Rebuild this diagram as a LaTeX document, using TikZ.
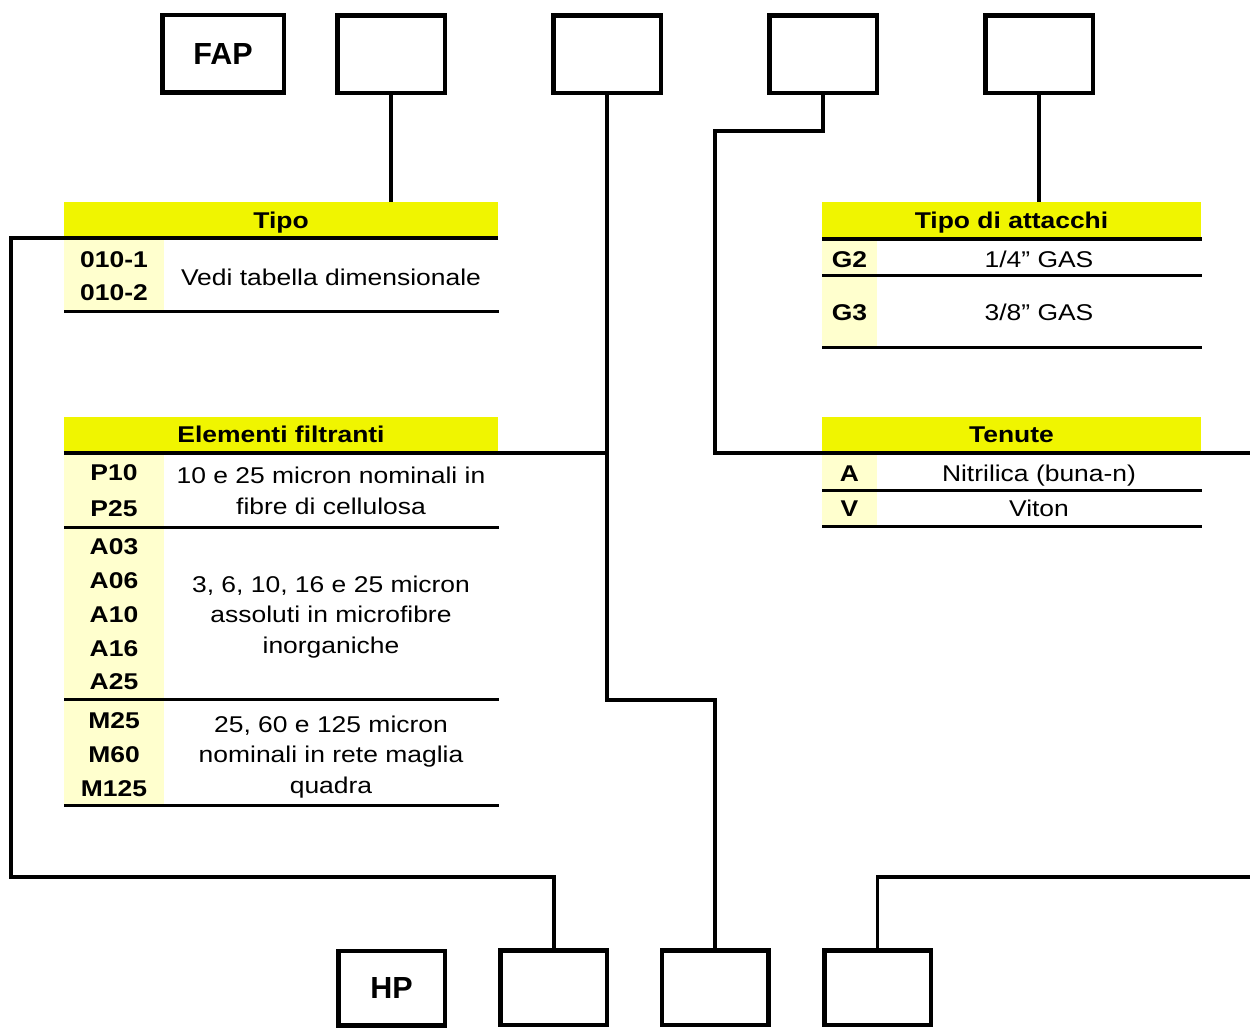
\documentclass[tikz,border=0pt]{standalone}
\usepackage{fontspec}
\setmainfont{Liberation Sans}[FakeStretch=1.16]
\newfontfamily\plainsans{Liberation Sans}
\definecolor{hdry}{RGB}{240,245,0}
\definecolor{keyy}{RGB}{255,255,206}
\begin{document}
\begin{tikzpicture}[x=1pt,y=-1pt,
  txt/.style={inner sep=0pt, text height=16.3pt, text depth=0pt, font=\fontsize{22.8}{27}\selectfont},
  ktxt/.style={txt, font=\fontsize{22.8}{27}\selectfont\bfseries},
  codebox/.style={draw, line width=4.5pt, inner sep=0pt, minimum width=107.5pt, minimum height=77.5pt, text height=21.8pt, text depth=0pt, font=\plainsans\fontsize{30.5}{34}\selectfont\bfseries},
  hdr/.style={fill=hdry, inner sep=0pt, minimum height=36pt, text height=16.3pt, text depth=0pt, font=\fontsize{22.8}{27}\selectfont\bfseries},
  keycol/.style={fill=keyy},
  rule/.style={line width=3pt},
  hrule/.style={line width=4pt},
  conn/.style={line width=3.5pt}]
\useasboundingbox (0,0) rectangle (1250,1028);

% top code boxes
\node[codebox, minimum width=121.5pt] (fap) at (223,53.5) {FAP};
\node[codebox] (b2) at (391,54) {};
\node[codebox] (b3) at (607,54) {};
\node[codebox] (b4) at (823,54) {};
\node[codebox] (b5) at (1039,54) {};

% bottom code boxes
\node[codebox, minimum width=106.5pt, minimum height=74.5pt] (hp) at (391.5,988) {HP};
\node[codebox, minimum width=106.5pt, minimum height=74.5pt] (h2) at (553.5,987.5) {};
\node[codebox, minimum width=106.5pt, minimum height=74.5pt] (h3) at (715,987.5) {};
\node[codebox, minimum width=106.5pt, minimum height=74.5pt] (h4) at (877.5,987.5) {};

% ---------- Tipo table ----------
\node[hdr, minimum width=434pt] (tipoH) at (281,220) {Tipo};
\fill[keycol] (64,240) rectangle (164,309.5);
\node[ktxt] (k0101) at (114,259.5) {010-1};
\node[ktxt] (k0102) at (114,292.5) {010-2};
\node[txt] (dtipo) at (331,277) {Vedi tabella dimensionale};
\draw[rule] (64,311) -- (498.5,311);

% ---------- Tipo di attacchi ----------
\node[hdr, minimum width=379pt] (attH) at (1011.5,220) {Tipo di attacchi};
\fill[keycol] (822,240) rectangle (877,274);
\fill[keycol] (822,277) rectangle (877,345.5);
\node[ktxt] (kg2) at (849.5,259) {G2};
\node[txt] (dg2) at (1039,259) {1/4” GAS};
\node[ktxt] (kg3) at (849.5,312) {G3};
\node[txt] (dg3) at (1039,312) {3/8” GAS};
\draw[hrule] (822,238.5) -- (1202,238.5);
\draw[rule] (822,275.5) -- (1202,275.5);
\draw[rule] (822,347) -- (1202,347);

% ---------- Elementi filtranti ----------
\node[hdr, minimum width=434pt] (elemH) at (281,434.5) {Elementi filtranti};
\fill[keycol] (64,455) rectangle (164,804);
\node[ktxt] (kp10) at (114,472) {P10};
\node[ktxt] (kp25) at (114,508.5) {P25};
\node[txt] (dp1) at (331,475.5) {10 e 25 micron nominali in};
\node[txt] (dp2) at (331,506) {fibre di cellulosa};
\draw[rule] (64,527.5) -- (498.5,527.5);
\node[ktxt] (ka03) at (114,546.5) {A03};
\node[ktxt] (ka06) at (114,580.5) {A06};
\node[ktxt] (ka10) at (114,614) {A10};
\node[ktxt] (ka16) at (114,648) {A16};
\node[ktxt] (ka25) at (114,681.5) {A25};
\node[txt] (da1) at (331,584) {3, 6, 10, 16 e 25 micron};
\node[txt] (da2) at (331,614.5) {assoluti in microfibre};
\node[txt] (da3) at (331,645) {inorganiche};
\draw[rule] (64,699.5) -- (498.5,699.5);
\node[ktxt] (km25) at (114,720.5) {M25};
\node[ktxt] (km60) at (114,754) {M60};
\node[ktxt] (km125) at (114,788) {M125};
\node[txt] (dm1) at (331,724) {25, 60 e 125 micron};
\node[txt] (dm2) at (331,754.5) {nominali in rete maglia};
\node[txt] (dm3) at (331,785) {quadra};
\draw[rule] (64,805.5) -- (498.5,805.5);

% ---------- Tenute ----------
\node[hdr, minimum width=379pt] (tenH) at (1011.5,434.5) {Tenute};
\fill[keycol] (822,455) rectangle (877,489);
\fill[keycol] (822,491.5) rectangle (877,525);
\node[ktxt] (ka) at (849.5,473) {A};
\node[txt] (dna) at (1039,473) {Nitrilica (buna-n)};
\node[ktxt] (kv) at (849.5,508.5) {V};
\node[txt] (dv) at (1039,508.5) {Viton};
\draw[rule] (822,490) -- (1202,490);
\draw[rule] (822,526.5) -- (1202,526.5);

% ---------- connectors ----------
\coordinate (c1) at (715,700);
\coordinate (c2) at (715,131);
\coordinate (c3) at (1250,453);
\coordinate (c4) at (11,877);
\coordinate (c5) at (1250,877);

\draw[conn] (b2.south) -- (b2.south |- tipoH.north);
\draw[conn] (b5.south) -- (b5.south |- attH.north);
\draw[conn] (b3.south) |- (c1) -- (h3.north);
\draw[hrule] (elemH.south west) -- (elemH.south west -| b3.south);
\draw[conn] (b4.south) |- (c2) |- (c3);
\draw[hrule] (tipoH.south east) -| (c4) -| (h2.north);
\draw[conn] (h4.north) |- (c5);
\end{tikzpicture}
\end{document}
